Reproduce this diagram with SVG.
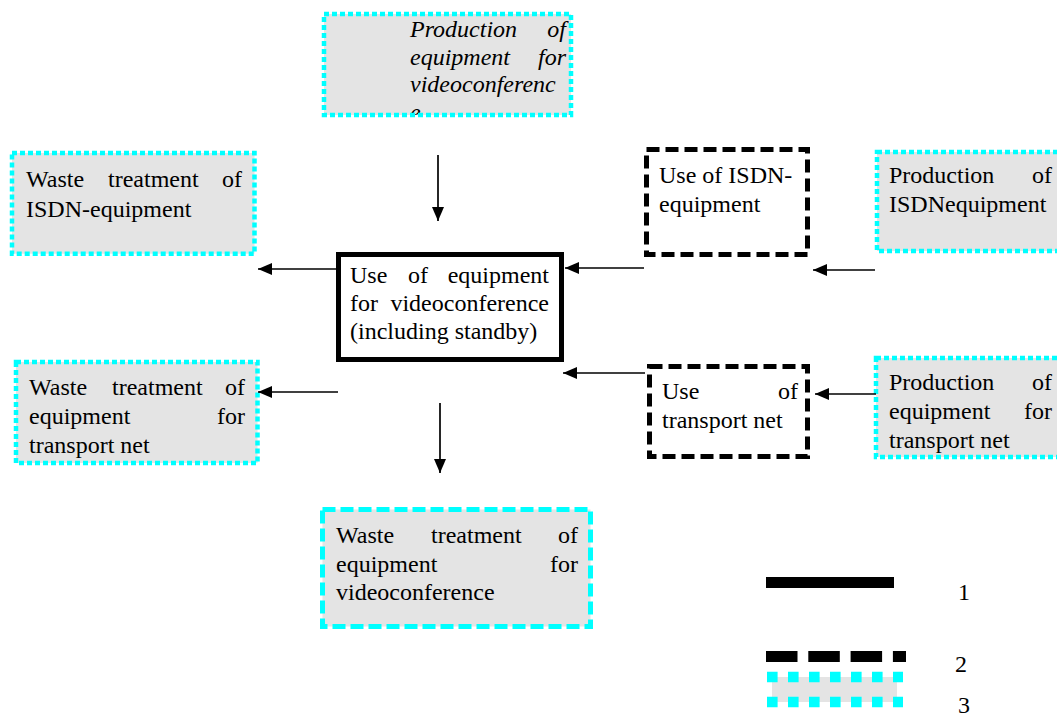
<svg xmlns="http://www.w3.org/2000/svg" width="1057" height="718" viewBox="0 0 1057 718">
  <style>
    text { font-family: "Liberation Serif", "Times New Roman", serif; font-size: 24px; fill: #000; }
    .it { font-style: italic; }
    .end { text-anchor: end; }
    .dotted { fill: #e4e4e4; stroke: #00ffff; stroke-width: 4.5; stroke-dasharray: 5 3; }
    .cydash { fill: #e4e4e4; stroke: #00ffff; stroke-width: 5; stroke-dasharray: 13 5; }
    .bkdash { fill: #fff; stroke: #000; stroke-width: 5; stroke-dasharray: 13 6; }
    .solid { fill: #fff; stroke: #000; stroke-width: 5; }
    .conn { stroke: #000; stroke-width: 1.7; fill: none; marker-end: url(#head); }
  </style>
  <defs>
    <marker id="head" markerUnits="userSpaceOnUse" markerWidth="14" markerHeight="12" refX="14" refY="6" orient="auto">
      <path d="M0,0 L14,6 L0,12 z" fill="#000"/>
    </marker>
    <clipPath id="topClip">
      <rect x="320" y="0" width="260" height="116"/>
    </clipPath>
  </defs>
  <rect width="1057" height="718" fill="#fff"/>

  <!-- upstream: production of videoconference equipment -->
  <g id="prod-vc">
    <rect x="324" y="14" width="247" height="101" fill="#e4e4e4"/>
    <g clip-path="url(#topClip)">
      <text class="it" x="410" y="37">Production</text>
      <text class="it end" x="566" y="37">of</text>
      <text class="it" x="410" y="65">equipment</text>
      <text class="it end" x="566" y="65">for</text>
      <text class="it" x="410" y="92">videoconferenc</text>
      <text class="it" x="410" y="120">e</text>
    </g>
    <rect x="324" y="14" width="247" height="101" class="dotted" style="fill:none"/>
  </g>

  <g id="waste-isdn">
    <rect x="12" y="153" width="242.5" height="100.7" class="dotted"/>
    <text x="26" y="187">Waste</text>
    <text x="108" y="187">treatment</text>
    <text class="end" x="242" y="187">of</text>
    <text x="26" y="217">ISDN-equipment</text>
  </g>

  <g id="use-isdn">
    <rect x="646.5" y="149.5" width="161" height="105" class="bkdash"/>
    <text x="659" y="183">Use of ISDN-</text>
    <text x="659" y="212">equipment</text>
  </g>

  <g id="prod-isdn">
    <rect x="877" y="152" width="190" height="99" class="dotted"/>
    <text x="889" y="183">Production</text>
    <text class="end" x="1052" y="183">of</text>
    <text x="889" y="212">ISDNequipment</text>
  </g>

  <g id="use-vc">
    <rect x="338.5" y="254.5" width="223" height="105" class="solid"/>
    <text x="350" y="283">Use</text>
    <text x="408" y="283">of</text>
    <text class="end" x="549" y="283">equipment</text>
    <text x="350" y="311">for</text>
    <text class="end" x="549" y="311">videoconference</text>
    <text x="350" y="339">(including standby)</text>
  </g>

  <g id="waste-transport">
    <rect x="16" y="362" width="241.5" height="101" class="dotted"/>
    <text x="29" y="395">Waste</text>
    <text x="112" y="395">treatment</text>
    <text class="end" x="245" y="395">of</text>
    <text x="29" y="424">equipment</text>
    <text class="end" x="245" y="424">for</text>
    <text x="29" y="453">transport net</text>
  </g>

  <g id="use-transport">
    <rect x="649.5" y="366.5" width="158" height="90" class="bkdash"/>
    <text x="662" y="399">Use</text>
    <text class="end" x="798" y="399">of</text>
    <text x="662" y="428">transport net</text>
  </g>

  <g id="prod-transport">
    <rect x="876" y="358" width="191" height="99" class="dotted"/>
    <text x="889" y="390">Production</text>
    <text class="end" x="1052" y="390">of</text>
    <text x="889" y="419">equipment</text>
    <text class="end" x="1052" y="419">for</text>
    <text x="889" y="448">transport net</text>
  </g>

  <g id="waste-vc">
    <rect x="322.5" y="509.5" width="268" height="117" class="cydash"/>
    <text x="336" y="543">Waste</text>
    <text x="431" y="543">treatment</text>
    <text class="end" x="578" y="543">of</text>
    <text x="336" y="572">equipment</text>
    <text class="end" x="578" y="572">for</text>
    <text x="336" y="600">videoconference</text>
  </g>

  <g id="connectors">
    <line class="conn" x1="438" y1="155" x2="438" y2="221"/>
    <line class="conn" x1="336" y1="269" x2="258" y2="269"/>
    <line class="conn" x1="644" y1="268" x2="565" y2="268"/>
    <line class="conn" x1="875" y1="270" x2="813" y2="270"/>
    <line class="conn" x1="645" y1="373" x2="563" y2="373"/>
    <line class="conn" x1="876" y1="394" x2="815" y2="394"/>
    <line class="conn" x1="338" y1="392" x2="258" y2="392"/>
    <line class="conn" x1="440" y1="403" x2="440" y2="473"/>
  </g>

  <g id="legend">
    <rect x="766" y="577" width="128" height="11" fill="#000"/>
    <text x="958" y="600">1</text>
    <line x1="766" y1="656.5" x2="906" y2="656.5" stroke="#000" stroke-width="11" stroke-dasharray="31.5 10.8"/>
    <text x="955" y="672">2</text>
    <rect x="772" y="677" width="125" height="25" fill="#e4e4e4"/>
    <line x1="767" y1="677" x2="903" y2="677" stroke="#00ffff" stroke-width="10.5" stroke-dasharray="10.6 10.4"/>
    <line x1="767" y1="702" x2="903" y2="702" stroke="#00ffff" stroke-width="10.5" stroke-dasharray="10.6 10.4"/>
    <text x="958" y="713">3</text>
  </g>
</svg>
